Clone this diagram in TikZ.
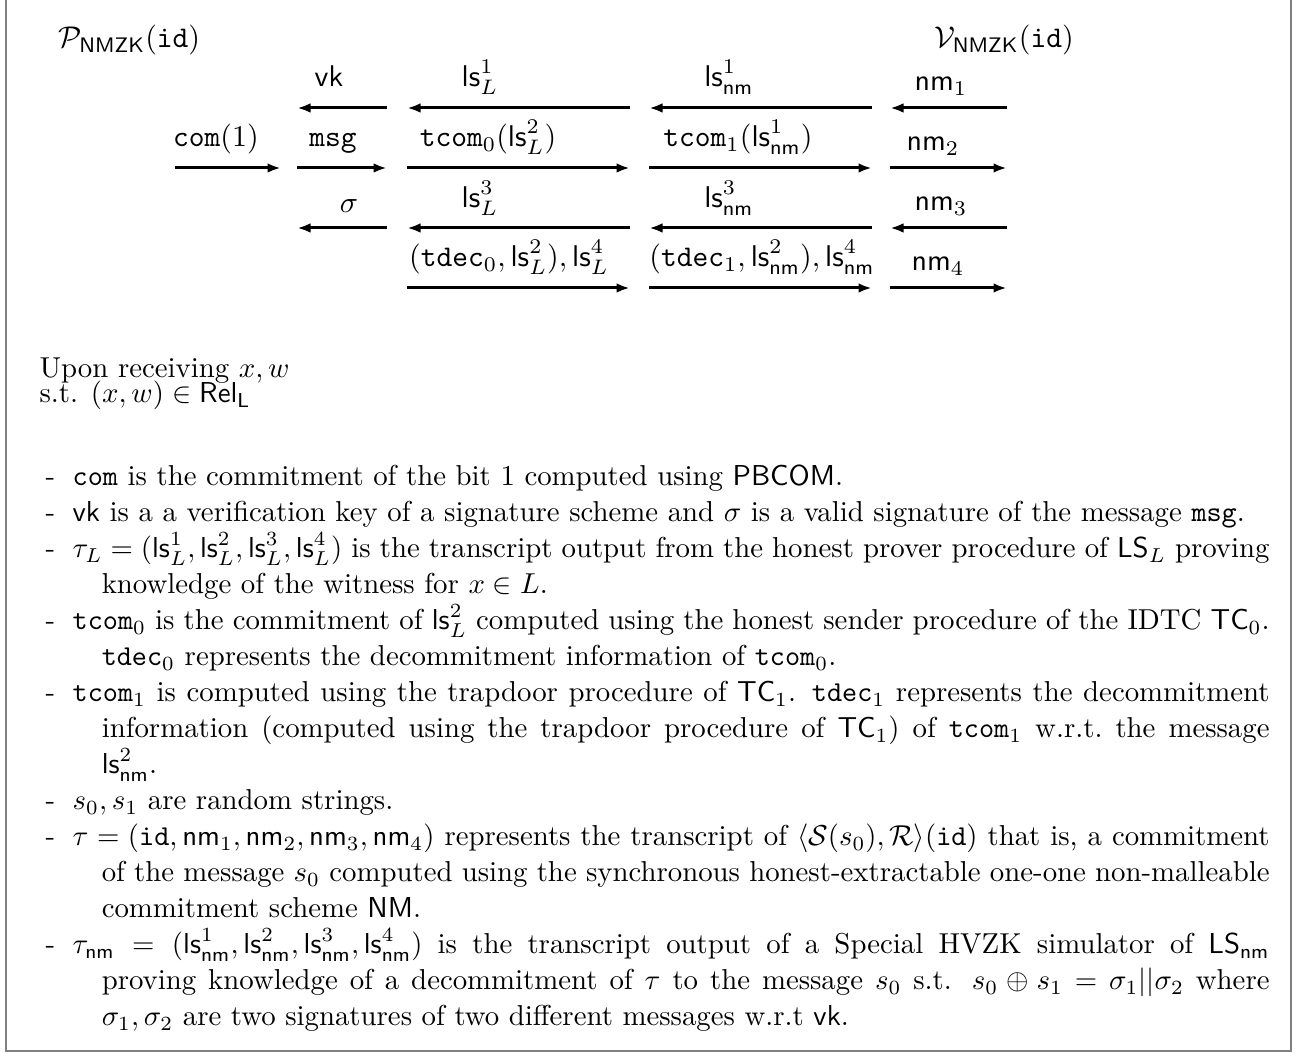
\documentclass[tikz,border=0pt]{standalone}
\usetikzlibrary{arrows.meta}
\newcommand\itm{\par\hangindent=19.5pt\hangafter=1\makebox[9.4pt][l]{-}}
\begin{document}
\begin{tikzpicture}[x=0.33333pt,y=-0.33333pt,
  flow/.style={line width=1pt,-{Latex[length=4.5pt,width=3.2pt]}},
  lbl/.style={anchor=base,inner sep=0pt},
  txt/.style={anchor=base west,inner sep=0pt},
  frame/.style={draw=gray,line width=0.7pt}]
\useasboundingbox (0,0) rectangle (1299,1053);
\coordinate (ftl) at (6,0);
\coordinate (fbl) at (6,1051);
\coordinate (fbr) at (1291,1051);
\coordinate (ftr) at (1291,0);
\draw[frame] (ftl) -- (fbl) -- (fbr) -- (ftr);

% parties
\node[txt] (P) at (58,48) {$\mathcal{P}_{\mathsf{NMZK}}(\mathtt{id})$};
\node[txt] (V) at (934,48) {$\mathcal{V}_{\mathsf{NMZK}}(\mathtt{id})$};

% arrow end points
\foreach \r/\y in {1/108,2/168,3/228,4/288}{
  \coordinate (c0l\r) at (175,\y); \coordinate (c0r\r) at (281,\y);
  \coordinate (c1l\r) at (297,\y); \coordinate (c1r\r) at (387,\y);
  \coordinate (c2l\r) at (407,\y); \coordinate (c2r\r) at (630,\y);
  \coordinate (c3l\r) at (649,\y); \coordinate (c3r\r) at (872,\y);
  \coordinate (c4l\r) at (890,\y); \coordinate (c4r\r) at (1007,\y);
}
% row 1 (right to left)
\draw[flow] (c1r1) -- (c1l1);
\draw[flow] (c2r1) -- (c2l1);
\draw[flow] (c3r1) -- (c3l1);
\draw[flow] (c4r1) -- (c4l1);
% row 2 (left to right)
\draw[flow] (c0l2) -- (c0r2);
\draw[flow] (c1l2) -- (c1r2);
\draw[flow] (c2l2) -- (c2r2);
\draw[flow] (c3l2) -- (c3r2);
\draw[flow] (c4l2) -- (c4r2);
% row 3 (right to left)
\draw[flow] (c1r3) -- (c1l3);
\draw[flow] (c2r3) -- (c2l3);
\draw[flow] (c3r3) -- (c3l3);
\draw[flow] (c4r3) -- (c4l3);
% row 4 (left to right)
\draw[flow] (c2l4) -- (c2r4);
\draw[flow] (c3l4) -- (c3r4);
\draw[flow] (c4l4) -- (c4r4);

% labels
\node[lbl] (l11) at (329,87) {$\mathsf{vk}$};
\node[lbl] (l12) at (480,87) {$\mathsf{ls}^1_L$};
\node[lbl] (l13) at (729,87) {$\mathsf{ls}^1_{\mathsf{nm}}$};
\node[lbl] (l14) at (941,91) {$\mathsf{nm}_1$};
\node[lbl] (l20) at (216,147) {$\mathtt{com}(1)$};
\node[lbl] (l21) at (333,147) {$\mathtt{msg}$};
\node[lbl] (l22) at (488,147) {$\mathtt{tcom}_0(\mathsf{ls}^2_L)$};
\node[lbl] (l23) at (738,147) {$\mathtt{tcom}_1(\mathsf{ls}^1_{\mathsf{nm}})$};
\node[lbl] (l24) at (933,151) {$\mathsf{nm}_2$};
\node[lbl] (l31) at (349,213) {$\sigma$};
\node[lbl] (l32) at (480,208) {$\mathsf{ls}^3_L$};
\node[lbl] (l33) at (729,208) {$\mathsf{ls}^3_{\mathsf{nm}}$};
\node[lbl] (l34) at (941,211) {$\mathsf{nm}_3$};
\node[lbl] (l42) at (509,267) {$(\mathtt{tdec}_0, \mathsf{ls}^2_L), \mathsf{ls}^4_L$};
\node[lbl] (l43) at (762,267) {$(\mathtt{tdec}_1, \mathsf{ls}^2_{\mathsf{nm}}), \mathsf{ls}^4_{\mathsf{nm}}$};
\node[lbl] (l44) at (938,271) {$\mathsf{nm}_4$};

% upon receiving
\node[txt] (up1) at (39,378) {\scalebox{0.96}{Upon receiving $x, w$}};
\node[txt] (up2) at (39,403) {\scalebox{0.96}{s.t. $(x, w) \in \mathsf{Rel}_{\mathsf{L}}$}};

% description
\node[txt] (body) at (45,486) {\scalebox{0.96}{\parbox[t]{425pt}{\parindent=0pt\parskip=0pt\lineskiplimit=-20pt\baselineskip=12.5pt
\itm $\mathtt{com}$ is the commitment of the bit 1 computed using $\mathsf{PBCOM}$.
\itm $\mathsf{vk}$ is a a verification key of a signature scheme and $\sigma$ is a valid signature of the message $\mathtt{msg}$.
\itm $\tau_L = (\mathsf{ls}^1_L, \mathsf{ls}^2_L, \mathsf{ls}^3_L, \mathsf{ls}^4_L)$ is the transcript output from the honest prover procedure of $\mathsf{LS}_L$ proving\linebreak knowledge of the witness for $x \in L$.
\itm $\mathtt{tcom}_0$ is the commitment of $\mathsf{ls}^2_L$ computed using the honest sender procedure of the IDTC $\mathsf{TC}_0$.\linebreak $\mathtt{tdec}_0$ represents the decommitment information of $\mathtt{tcom}_0$.
\itm $\mathtt{tcom}_1$ is computed using the trapdoor procedure of $\mathsf{TC}_1$. $\mathtt{tdec}_1$ represents the decommitment\linebreak information (computed using the trapdoor procedure of $\mathsf{TC}_1$) of $\mathtt{tcom}_1$ w.r.t.\ the message\linebreak $\mathsf{ls}^2_{\mathsf{nm}}$.
\itm $s_0, s_1$ are random strings.
\itm $\tau = (\mathtt{id}, \mathsf{nm}_1, \mathsf{nm}_2, \mathsf{nm}_3, \mathsf{nm}_4)$ represents the transcript of $\langle \mathcal{S}(s_0), \mathcal{R}\rangle(\mathtt{id})$ that is, a commitment\linebreak of the message $s_0$ computed using the synchronous honest-extractable one-one non-malleable\linebreak commitment scheme $\mathsf{NM}$.
\itm $\tau_{\mathsf{nm}} = (\mathsf{ls}^1_{\mathsf{nm}}, \mathsf{ls}^2_{\mathsf{nm}}, \mathsf{ls}^3_{\mathsf{nm}}, \mathsf{ls}^4_{\mathsf{nm}})$ is the transcript output of a Special HVZK simulator of $\mathsf{LS}_{\mathsf{nm}}$\linebreak proving knowledge of a decommitment of $\tau$ to the message $s_0$ s.t. $s_0 \oplus s_1 = \sigma_1 || \sigma_2$ where\linebreak $\sigma_1, \sigma_2$ are two signatures of two different messages w.r.t $\mathsf{vk}$.\par}}};
\end{tikzpicture}
\end{document}
